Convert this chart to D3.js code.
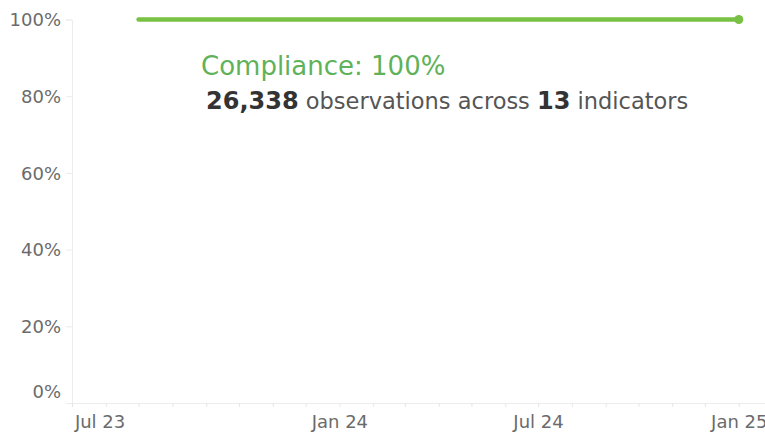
<!DOCTYPE html>
<html>
<head>
<meta charset="utf-8">
<script src="https://cdn.jsdelivr.net/npm/d3@7"></script>
<style>
  body { margin: 0; background: #fff; }
  svg text { font-family: "DejaVu Sans", sans-serif; }
</style>
</head>
<body>
<div id="chart"></div>
<script>
// monthly compliance rate
const dates = ['2023-07-01', '2023-08-01', '2023-09-01', '2023-10-01', '2023-11-01', '2023-12-01',
  '2024-01-01', '2024-02-01', '2024-03-01', '2024-04-01', '2024-05-01', '2024-06-01',
  '2024-07-01', '2024-08-01', '2024-09-01', '2024-10-01', '2024-11-01', '2024-12-01', '2025-01-01'];
const compliance = [1, 1, 1, 1, 1, 1, 1, 1, 1, 1, 1, 1, 1, 1, 1, 1, 1, 1, 1];
const yTicks = [0, 0.2, 0.4, 0.6, 0.8, 1];
const xTicks = ['2023-07-01', '2024-01-01', '2024-07-01', '2025-01-01'];
const observations = 26338;
const indicators = 13;

const width = 765, height = 433;
const margin = {top: 19.5, right: 0, bottom: 30, left: 72};
const parse = d3.timeParse('%Y-%m-%d');

const data = dates.map((d, i) => ({date: parse(d), value: compliance[i]}));

const svg = d3.select('#chart').append('svg')
  .attr('width', width)
  .attr('height', height);

const x = d3.scaleTime()
  .domain([parse('2023-05-01'), parse('2025-01-25')])
  .range([margin.left, width - margin.right]);

const y = d3.scaleLinear()
  .domain([0, 1])
  .range([height - margin.bottom, margin.top]);

// y axis
const yAxis = svg.append('g')
  .attr('transform', `translate(${margin.left},0)`)
  .call(d3.axisLeft(y).tickValues(yTicks).tickFormat(d3.format('.0%')).tickSize(6).tickPadding(5));
yAxis.select('.domain').attr('stroke', '#ececec');
yAxis.selectAll('.tick line').attr('stroke', '#ececec');
yAxis.selectAll('.tick text')
  .attr('fill', '#6b6b6b')
  .style('font-size', '18px')
  .attr('dy', d => d === 0 ? '-0.32em' : '0.34em');

// x axis: monthly minor ticks
const xAxisG = svg.append('g')
  .attr('transform', `translate(0,${height - margin.bottom})`);
xAxisG.call(d3.axisBottom(x).ticks(d3.timeMonth.every(1)).tickFormat('').tickSize(4).tickSizeOuter(0));
xAxisG.select('.domain').attr('stroke', '#ececec');
xAxisG.selectAll('.tick line').attr('stroke', '#e6e6e6');

// x labels
const xLab = svg.append('g')
  .attr('transform', `translate(0,${height - margin.bottom})`)
  .call(d3.axisBottom(x).tickValues(xTicks.map(parse)).tickFormat(d3.timeFormat('%b %y')).tickSize(0).tickPadding(12));
xLab.select('.domain').remove();
xLab.selectAll('.tick text')
  .attr('fill', '#6b6b6b')
  .style('font-size', '18px');
// first label sits further left, as in the original
xLab.selectAll('.tick text').filter((d, i) => i === 0)
  .attr('dx', -39);

// line
const line = d3.line()
  .x(d => x(d.date))
  .y(d => y(d.value));

svg.append('path')
  .datum(data)
  .attr('fill', 'none')
  .attr('stroke', '#78c144')
  .attr('stroke-width', 4.5)
  .attr('stroke-linecap', 'round')
  .attr('d', line);

const last = data[data.length - 1];
svg.append('circle')
  .attr('cx', x(last.date))
  .attr('cy', y(last.value))
  .attr('r', 4.5)
  .attr('fill', '#78c144');

// annotation
svg.append('text')
  .attr('x', 201)
  .attr('y', 75)
  .attr('fill', '#5fb25a')
  .style('font-size', '26px')
  .text(`Compliance: ${d3.format('.0%')(d3.mean(compliance))}`);

const sub = svg.append('text')
  .attr('x', 206)
  .attr('y', 109)
  .attr('fill', '#555')
  .style('font-size', '22.5px');
sub.append('tspan').attr('fill', '#333').style('font-weight', 'bold').style('font-size', '24px')
  .text(d3.format(',')(observations));
sub.append('tspan').text(' observations across ');
sub.append('tspan').attr('fill', '#333').style('font-weight', 'bold').style('font-size', '24px')
  .text(indicators);
sub.append('tspan').text(' indicators');
</script>
</body>
</html>
